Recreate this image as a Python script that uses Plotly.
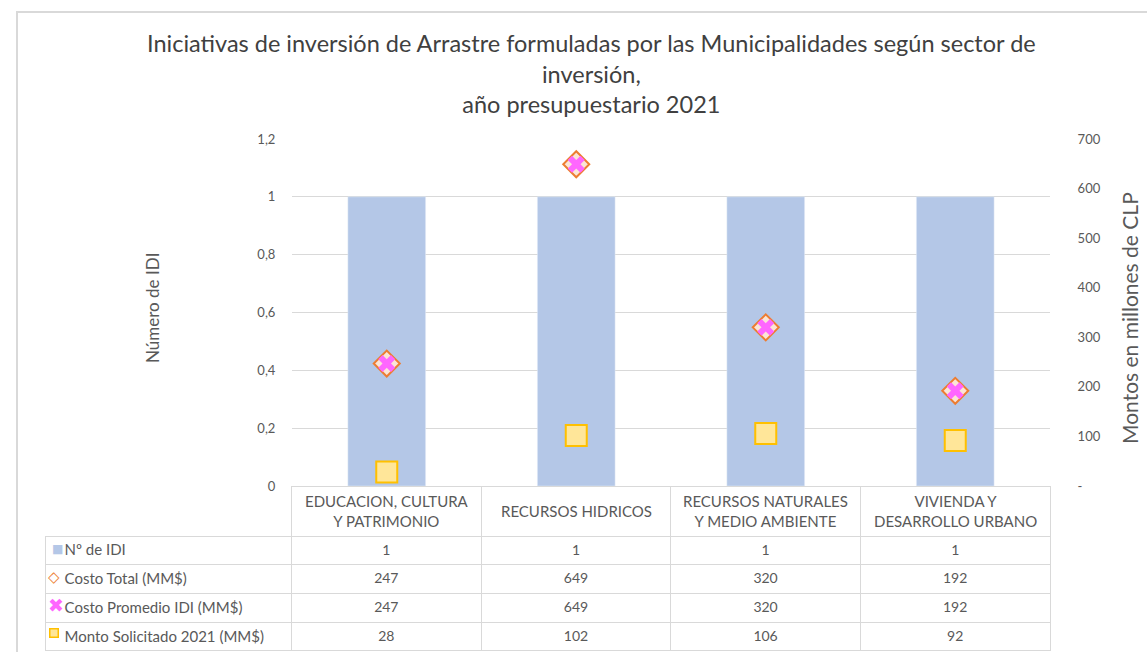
import plotly.graph_objects as go

categories = ["EDUCACION, CULTURA<br>Y PATRIMONIO", "RECURSOS HIDRICOS",
              "RECURSOS NATURALES<br>Y MEDIO AMBIENTE", "VIVIENDA Y<br>DESARROLLO URBANO"]
cat_keys = ["EDUCACION, CULTURA Y PATRIMONIO", "RECURSOS HIDRICOS",
            "RECURSOS NATURALES Y MEDIO AMBIENTE", "VIVIENDA Y DESARROLLO URBANO"]
n_idi = [1, 1, 1, 1]
costo_total = [247, 649, 320, 192]
costo_promedio = [247, 649, 320, 192]
monto_solicitado = [28, 102, 106, 92]

left_tickvals = [0, 0.2, 0.4, 0.6, 0.8, 1, 1.2]
left_ticktext = ["0", "0,2", "0,4", "0,6", "0,8", "1", "1,2"]
right_tickvals = [0, 100, 200, 300, 400, 500, 600, 700]
right_ticktext = ["-", "100", "200", "300", "400", "500", "600", "700"]

series_labels = ["Nº de IDI", "Costo Total (MM$)", "Costo Promedio IDI (MM$)",
                 "Monto Solicitado 2021 (MM$)"]

W, H = 1147, 652          # reference picture size (layout coordinates below)
FIG_H = 668               # page height actually captured
SY = FIG_H / H
def px_x(v): return v / W
def px_y(v): return (H - v) / H

FONT = "Lato"
GREY = "#595959"
LINE = "#d9d9d9"
NB = "\u00a0"

# table geometry (reference pixels)
T_LEFT, T_RIGHT, T_TOP, HDR_H, ROW_H = 45, 1050, 486, 49, 28

fig = go.Figure()
fig.add_trace(go.Bar(x=cat_keys, y=n_idi, marker=dict(color="#B4C7E7"), width=0.41,
                     name="Nº de IDI", yaxis="y"))
fig.add_trace(go.Scatter(x=cat_keys, y=costo_total, mode="markers", yaxis="y2",
                         name="Costo Total (MM$)",
                         marker=dict(symbol="diamond", size=20, color="#FBE5D6",
                                     line=dict(color="#ED7D31", width=2))))
fig.add_trace(go.Scatter(x=cat_keys, y=costo_promedio, mode="markers", yaxis="y2",
                         name="Costo Promedio IDI (MM$)",
                         marker=dict(symbol="x", size=15, color="#FF66FF",
                                     line=dict(width=0))))
fig.add_trace(go.Scatter(x=cat_keys, y=monto_solicitado, mode="markers", yaxis="y2",
                         name="Monto Solicitado 2021 (MM$)",
                         marker=dict(symbol="square", size=21, color="#FFE699",
                                     line=dict(color="#FFC000", width=2))))

label_cells = [NB * 3 + s.replace(" ", NB) for s in series_labels]
col_vals = [label_cells]
for i in range(len(cat_keys)):
    col_vals.append([str(n_idi[i]), str(costo_total[i]), str(costo_promedio[i]),
                     str(monto_solicitado[i])])

fig.add_trace(go.Table(
    domain=dict(x=[px_x(T_LEFT), px_x(T_RIGHT)], y=[px_y(652), px_y(T_TOP)]),
    columnwidth=[247, 190, 190, 190, 190],
    header=dict(values=["", "", "", "", ""], height=HDR_H * SY,
                fill=dict(color=["rgba(0,0,0,0)", "white", "white", "white", "white"]),
                line=dict(color=["rgba(0,0,0,0)", LINE, LINE, LINE, LINE], width=1),
                align="center", font=dict(family=FONT, size=15, color=GREY)),
    cells=dict(values=col_vals, height=ROW_H * SY, fill=dict(color="white"),
               line=dict(color=LINE, width=1),
               align=["left", "center", "center", "center", "center"],
               font=dict(family=FONT, size=[15, 14, 14, 14, 14], color=GREY)),
))

annotations = [
    dict(text="Iniciativas de inversión de Arrastre formuladas por las Municipalidades según sector de<br>inversión,<br>año presupuestario 2021",
         xref="paper", yref="paper", x=px_x(591), y=px_y(27), xanchor="center", yanchor="top",
         showarrow=False, font=dict(family=FONT, size=23.5, color="#404040")),
    dict(text="Número de IDI", xref="paper", yref="paper", x=px_x(152), y=px_y(308),
         textangle=-90, showarrow=False, xanchor="center", yanchor="middle",
         font=dict(family=FONT, size=17, color=GREY)),
    dict(text="Montos en millones de CLP", xref="paper", yref="paper", x=px_x(1129), y=px_y(318),
         textangle=-90, showarrow=False, xanchor="center", yanchor="middle",
         font=dict(family=FONT, size=21, color=GREY)),
]
# header category labels, placed on the category axis
for key, lab in zip(cat_keys, categories):
    annotations.append(dict(text=lab, xref="x", yref="paper", x=key,
                            y=px_y(T_TOP + HDR_H / 2), xanchor="center", yanchor="middle",
                            showarrow=False, font=dict(family=FONT, size=15, color=GREY)))

# legend keys in the table's first column
row_mid = [px_y(T_TOP + HDR_H + ROW_H * (i + 0.5)) for i in range(4)]
annotations += [
    dict(text="■", xref="paper", yref="paper", x=px_x(57), y=row_mid[0], showarrow=False,
         xanchor="center", yanchor="middle", font=dict(family="DejaVu Sans", size=12, color="#B4C7E7")),
    dict(text="◇", xref="paper", yref="paper", x=px_x(54), y=row_mid[1], showarrow=False,
         xanchor="center", yanchor="middle", font=dict(family="DejaVu Sans", size=15, color="#ED7D31")),
    dict(text="✖", xref="paper", yref="paper", x=px_x(56), y=row_mid[2], showarrow=False,
         xanchor="center", yanchor="middle", font=dict(family="DejaVu Sans", size=19, color="#FF66FF")),
    dict(text=" ", xref="paper", yref="paper", x=px_x(54), y=row_mid[3], showarrow=False,
         xanchor="center", yanchor="middle", width=7, height=7, bgcolor="#FFE699",
         bordercolor="#FFC000", borderwidth=1.5, borderpad=0, font=dict(size=4)),
]

fig.update_layout(
    width=W, height=FIG_H,
    margin=dict(l=0, r=0, t=0, b=0),
    paper_bgcolor="white", plot_bgcolor="white",
    showlegend=False,
    font=dict(family=FONT, color=GREY),
    xaxis=dict(domain=[px_x(292), px_x(1050)], showticklabels=False, showgrid=False,
               zeroline=False, showline=False, categoryorder="array", categoryarray=cat_keys),
    yaxis=dict(domain=[px_y(486), px_y(139)], range=[0, 1.2], tickvals=left_tickvals,
               ticktext=left_ticktext, showgrid=True, gridcolor=LINE, gridwidth=1,
               zeroline=False, ticks="outside", ticklen=13, tickcolor="rgba(0,0,0,0)",
               tickfont=dict(family=FONT, size=13, color=GREY)),
    yaxis2=dict(overlaying="y", side="right", range=[0, 700], tickvals=right_tickvals,
                ticktext=right_ticktext, showgrid=False, zeroline=False,
                ticks="outside", ticklen=24, tickcolor="rgba(0,0,0,0)",
                tickfont=dict(family=FONT, size=13, color=GREY)),
    shapes=[dict(type="rect", xref="paper", yref="paper", x0=px_x(17), x1=1.02,
                 y0=-0.02, y1=px_y(12), line=dict(color=LINE, width=2),
                 fillcolor="rgba(0,0,0,0)", layer="below")],
    annotations=annotations,
)

post = ("var de=document.documentElement;de.style.margin='0';de.style.padding='0';"
        "document.body.style.margin='0';document.body.style.padding='0';"
        "var d=document.getElementById('{plot_id}');d.style.position='absolute';"
        "d.style.left='0px';d.style.top='-8px';")
fig.write_html("out.html", post_script=post, config={"displayModeBar": False})
